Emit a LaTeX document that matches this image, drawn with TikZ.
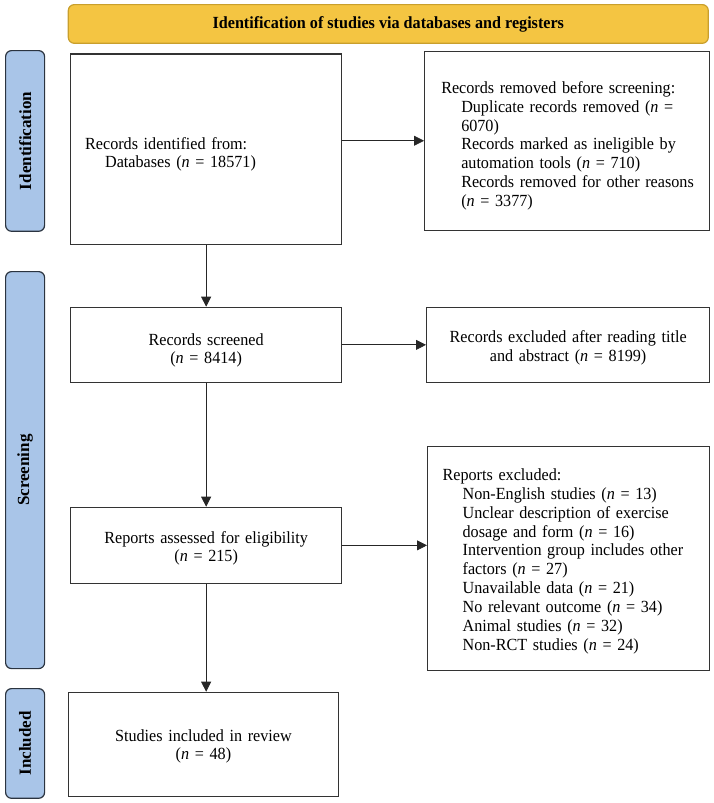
\documentclass[tikz,border=0pt]{standalone}
\usepackage{fontspec}
\setmainfont{Liberation Serif}[FakeStretch=0.95]
\newfontfamily\sidefont{Liberation Serif}
\usetikzlibrary{arrows.meta}
\definecolor{gold}{HTML}{F4C542}
\definecolor{golddark}{HTML}{C99F2C}
\definecolor{sideblue}{HTML}{A9C5E8}
\definecolor{sideborder}{HTML}{2B3440}
\definecolor{boxline}{HTML}{333333}
\newcommand{\il}[1]{\hspace*{20pt}\mbox{#1}}
\newcommand{\fl}[1]{\mbox{#1}}
\newcommand{\dn}[1]{\rule{0pt}{#1}}
\begin{document}
\begin{tikzpicture}[x=1pt,y=-1pt,
  box/.style={draw=boxline, line width=1.3pt, fill=white, inner ysep=0pt, anchor=north west,
    font=\fontsize{17}{18.9}\selectfont},
  cbox/.style={box, inner xsep=0pt, align=center},
  lbox/.style={box, align=left},
  side/.style={draw=sideborder, fill=sideblue, line width=1.2pt, rounded corners=6pt,
    anchor=north west, inner sep=0pt, minimum width=39pt,
    font=\sidefont\bfseries\fontsize{17}{17}\selectfont},
  banner/.style={draw=golddark, fill=gold, line width=1.2pt, rounded corners=6pt,
    anchor=north west, inner sep=0pt, font=\bfseries\fontsize{17}{17}\selectfont},
  arr/.style={draw=black!85, line width=0.8pt, -{Triangle[length=10pt,width=10pt]}}]
\useasboundingbox (0,0) rectangle (714,803);

% banner
\node[banner, minimum width=640pt, minimum height=38.7pt] (ban) at (67.7,4)
  {Identification of studies via databases and registers};

% side labels
\node[side, minimum height=180.7pt] (sid) at (5,50) {\rotatebox{90}{Identification}};
\node[side, minimum height=397pt] (sscr) at (5,271) {\rotatebox{90}{Screening}};
\node[side, minimum height=109.7pt] (sinc) at (5,688) {\rotatebox{90}{Included}};

% boxes
\node[lbox, inner xsep=14.5pt, text width=242pt, minimum height=190.7pt] (rec) at (70,53.3)
  {\dn{22pt}\fl{Records identified from:}\\ \il{Databases (\textit{n} = 18571)}};
\node[lbox, inner xsep=16.6pt, text width=251.8pt, minimum height=178.8pt] (rem) at (424,50.7)
  {\dn{22pt}\fl{Records removed before screening:}\\
   \il{Duplicate records removed (\textit{n} =}\\
   \il{6070)}\\
   \il{Records marked as ineligible by}\\
   \il{automation tools (\textit{n} = 710)}\\
   \il{Records removed for other reasons}\\
   \il{(\textit{n} = 3377)}};
\node[cbox, text width=271pt, minimum height=75pt] (scr) at (70,306.7)
  {\dn{23pt}Records screened\\ (\textit{n} = 8414)};
\node[cbox, text width=283pt, minimum height=75pt] (exc) at (426,306.7)
  {\dn{18.5pt}Records excluded after reading title\\ and abstract (\textit{n} = 8199)};
\node[cbox, text width=271pt, minimum height=76pt] (ass) at (70,506.7)
  {\dn{18pt}Reports assessed for eligibility\\ (\textit{n} = 215)};
\node[lbox, inner xsep=15pt, text width=252pt, minimum height=223.8pt] (rex) at (427,445.7)
  {\dn{18pt}\fl{Reports excluded:}\\
   \il{Non-English studies (\textit{n} = 13)}\\
   \il{Unclear description of exercise}\\
   \il{dosage and form (\textit{n} = 16)}\\
   \il{Intervention group includes other}\\
   \il{factors (\textit{n} = 27)}\\
   \il{Unavailable data (\textit{n} = 21)}\\
   \il{No relevant outcome (\textit{n} = 34)}\\
   \il{Animal studies (\textit{n} = 32)}\\
   \il{Non-RCT studies (\textit{n} = 24)}};
\node[cbox, text width=270.4pt, minimum height=104pt] (inc) at (67.6,691.7)
  {\dn{16pt}Studies included in review\\ (\textit{n} = 48)};

% connectors
\draw[arr] (rec.east |- rem.west) -- (rem.west);
\draw[arr] (scr.east) -- (exc.west);
\draw[arr] (ass.east) -- (ass.east -| rex.west);
\draw[arr] (rec.south) -- (scr.north);
\draw[arr] (scr.south) -- (ass.north);
\draw[arr] (ass.south) -- (ass.south |- inc.north);
\end{tikzpicture}
\end{document}
